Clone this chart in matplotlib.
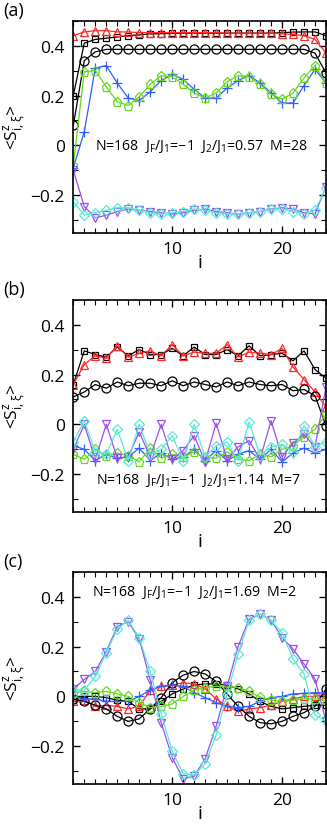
import numpy as np
import matplotlib.pyplot as plt
from matplotlib.ticker import MultipleLocator, FuncFormatter

plt.rcParams['font.family'] = ['Open Sans', 'DejaVu Sans']
plt.rcParams['mathtext.fontset'] = 'custom'
plt.rcParams['mathtext.rm'] = 'Open Sans'
plt.rcParams['mathtext.it'] = 'Open Sans'

i_site = np.arange(1, 25)

# panel (a)  J2/J1=0.57  M=28
a_sq = [0.20, 0.41, 0.425, 0.43, 0.435, 0.44, 0.443, 0.447, 0.448, 0.449, 0.45, 0.45,
        0.45, 0.45, 0.45, 0.45, 0.45, 0.45, 0.45, 0.452, 0.454, 0.455, 0.455, 0.44]
a_tri = [0.44, 0.455, 0.46, 0.46, 0.455, 0.455, 0.452, 0.452, 0.452, 0.452, 0.452, 0.452,
         0.452, 0.452, 0.45, 0.45, 0.45, 0.45, 0.45, 0.448, 0.445, 0.44, 0.425, 0.37]
a_circ = [0.08, 0.34, 0.375, 0.385, 0.385, 0.385, 0.385, 0.385, 0.385, 0.385, 0.385, 0.385,
          0.385, 0.385, 0.385, 0.385, 0.385, 0.385, 0.385, 0.385, 0.385, 0.385, 0.37, 0.29]
a_plus = [-0.09, 0.055, 0.31, 0.32, 0.25, 0.19, 0.18, 0.215, 0.26, 0.285, 0.265, 0.225,
          0.19, 0.19, 0.23, 0.26, 0.28, 0.25, 0.21, 0.17, 0.17, 0.24, 0.305, 0.25]
a_pent = [-0.08, 0.295, 0.30, 0.235, 0.175, 0.16, 0.195, 0.245, 0.28, 0.275, 0.245, 0.21,
          0.19, 0.21, 0.255, 0.28, 0.275, 0.245, 0.205, 0.185, 0.21, 0.27, 0.32, 0.25]
a_vtri = [-0.10, -0.245, -0.29, -0.28, -0.265, -0.255, -0.26, -0.265, -0.27, -0.275, -0.27, -0.26,
          -0.255, -0.265, -0.27, -0.275, -0.27, -0.265, -0.255, -0.25, -0.255, -0.27, -0.275, -0.165]
a_diam = [-0.225, -0.28, -0.27, -0.26, -0.25, -0.25, -0.26, -0.27, -0.275, -0.27, -0.265, -0.255,
          -0.26, -0.27, -0.275, -0.275, -0.27, -0.265, -0.255, -0.255, -0.265, -0.275, -0.26, -0.17]

# panel (b)  J2/J1=1.14  M=7
b_sq = [0.16, 0.295, 0.28, 0.27, 0.31, 0.275, 0.30, 0.28, 0.28, 0.305, 0.275, 0.31,
        0.28, 0.28, 0.30, 0.275, 0.315, 0.275, 0.28, 0.285, 0.255, 0.295, 0.22, 0.185]
b_tri = [0.16, 0.24, 0.275, 0.265, 0.315, 0.27, 0.285, 0.295, 0.275, 0.32, 0.275, 0.29,
         0.285, 0.285, 0.32, 0.27, 0.29, 0.285, 0.28, 0.305, 0.23, 0.18, 0.13, 0.07]
b_circ = [0.11, 0.13, 0.16, 0.145, 0.17, 0.155, 0.165, 0.165, 0.155, 0.175, 0.155, 0.17,
          0.16, 0.15, 0.17, 0.155, 0.17, 0.16, 0.155, 0.16, 0.135, 0.14, 0.115, -0.005]
b_plus = [-0.085, -0.10, -0.145, -0.12, -0.135, -0.13, -0.095, -0.145, -0.115, -0.14, -0.13, -0.10,
          -0.145, -0.105, -0.145, -0.12, -0.105, -0.14, -0.10, -0.15, -0.115, -0.095, -0.115, -0.10]
b_pent = [-0.12, -0.14, -0.10, -0.125, -0.115, -0.125, -0.15, -0.095, -0.135, -0.12, -0.13, -0.11,
          -0.135, -0.135, -0.11, -0.14, -0.145, -0.12, -0.13, -0.10, -0.085, -0.05, -0.02, 0.04]
b_vtri = [-0.10, 0.0, -0.14, 0.0, -0.135, -0.13, -0.03, -0.13, 0.0, -0.14, -0.105, -0.045,
          -0.15, 0.005, -0.14, -0.09, -0.065, -0.14, 0.015, -0.13, -0.075, -0.04, -0.09, 0.15]
b_diam = [-0.07, 0.015, -0.11, -0.12, -0.02, -0.145, 0.0, -0.12, -0.10, -0.045, -0.145, 0.0,
          -0.13, -0.085, -0.07, -0.145, 0.01, -0.125, -0.09, -0.08, -0.11, -0.005, -0.09, -0.07]

# panel (c)  J2/J1=1.69  M=2
c_sq = [-0.005, 0.0, 0.0, -0.005, -0.015, -0.02, -0.05, -0.05, -0.02, 0.01, 0.03, 0.045,
        0.05, 0.05, 0.045, 0.03, 0.01, -0.02, -0.04, -0.05, -0.045, -0.04, -0.035, -0.035]
c_tri = [-0.02, -0.015, -0.04, -0.035, -0.04, -0.05, -0.04, 0.025, 0.04, 0.045, 0.055, 0.05,
         0.03, -0.01, -0.04, -0.06, -0.05, -0.045, -0.035, -0.02, -0.01, 0.0, 0.0, 0.01]
c_circ = [-0.01, -0.02, -0.035, -0.05, -0.08, -0.10, -0.09, -0.05, -0.005, 0.055, 0.085, 0.10,
          0.09, 0.06, 0.01, -0.04, -0.08, -0.105, -0.11, -0.10, -0.08, -0.065, -0.04, 0.03]
c_plus = [0.0, -0.01, -0.01, -0.02, -0.02, -0.02, 0.0, 0.025, 0.04, 0.045, 0.04, 0.015,
          -0.005, -0.025, -0.04, -0.045, -0.04, -0.02, -0.005, 0.0, 0.01, 0.012, 0.015, 0.015]
c_pent = [0.015, 0.02, 0.015, 0.02, 0.01, 0.0, -0.025, -0.045, -0.04, -0.03, 0.0, 0.025,
          0.035, 0.04, 0.04, 0.035, 0.02, -0.003, -0.015, -0.02, -0.015, -0.01, -0.01, -0.015]
c_vtri = [0.03, 0.068, 0.10, 0.18, 0.28, 0.30, 0.23, 0.067, -0.105, -0.245, -0.33, -0.32,
          -0.25, -0.12, 0.04, 0.20, 0.31, 0.33, 0.305, 0.235, 0.19, 0.13, 0.07, -0.10]
c_diam = [0.025, 0.025, 0.08, 0.175, 0.27, 0.305, 0.235, 0.10, -0.07, -0.22, -0.31, -0.315,
          -0.27, -0.155, 0.01, 0.17, 0.305, 0.33, 0.305, 0.255, 0.15, 0.09, -0.075, -0.10]

panels = [
    ("(a)", "0.57", "28", [a_sq, a_tri, a_circ, a_plus, a_pent, a_vtri, a_diam], (12.7, 0.0)),
    ("(b)", "1.14", "7", [b_sq, b_tri, b_circ, b_plus, b_pent, b_vtri, b_diam], (12.4, -0.222)),
    ("(c)", "1.69", "2", [c_sq, c_tri, c_circ, c_plus, c_pent, c_vtri, c_diam], (12.0, 0.42)),
]

# couleur, marqueur, taille
styles = [
    ("black", "s", 5.0),
    ("#ff2828", "^", 5.5),
    ("black", "o", 6.5),
    ("#2f5fff", "+", 7.5),
    ("#66d81c", "p", 6.5),
    ("#9a4ff0", "v", 6.0),
    ("#58ead4", "D", 4.8),
]


def fmt_y(v, pos):
    if abs(v) < 1e-9:
        return "0"
    return f"{v:.1f}".replace("-", "\u2212")


def draw_panel(ax, j2, m, series, txt_pos):
    for y, (col, mk, ms) in zip(series, styles):
        ax.plot(i_site, y, color=col, lw=0.9, marker=mk, ms=ms, mfc="none",
                mec=col, mew=0.9, clip_on=True)

    ax.set_xlim(1, 24)
    ax.set_ylim(-0.35, 0.5)
    ax.xaxis.set_major_locator(MultipleLocator(10))
    ax.xaxis.set_minor_locator(MultipleLocator(1))
    ax.yaxis.set_major_locator(MultipleLocator(0.2))
    ax.yaxis.set_minor_locator(MultipleLocator(0.1))
    ax.yaxis.set_major_formatter(FuncFormatter(fmt_y))
    ax.tick_params(which="both", direction="in", top=True, right=True, labelsize=12.5, pad=6)
    ax.tick_params(which="major", length=5, width=1)
    ax.tick_params(which="minor", length=3.5, width=0.8)
    for sp in ax.spines.values():
        sp.set_linewidth(1.2)

    ax.set_xlabel("i", fontsize=14, labelpad=-3)
    ax.set_ylabel(r"<S$^{z}_{i,\xi}$>", fontsize=12.5)
    ax.yaxis.set_label_coords(-0.18, 0.5)

    ax.text(txt_pos[0], txt_pos[1],
            r"N=168  J$_F$/J$_1$=$-$1  J$_2$/J$_1$=" + j2 + "  M=" + m,
            ha="center", va="center", fontsize=10.2)


def main():
    fig = plt.figure(figsize=(3.27, 8.28), dpi=100)
    W, H = 327.0, 828.0
    tops = [21.7, 300.7, 572.7]
    for (label, j2, m, series, tp), top in zip(panels, tops):
        ax = fig.add_axes([73.3 / W, (H - top - 212) / H, 252.7 / W, 212 / H])
        draw_panel(ax, j2, m, series, tp)
        fig.text(3 / W, (H - top + 10.5) / H, label, fontsize=13, ha="left", va="center")
    fig.savefig("out.png", dpi=100)


if __name__ == "__main__":
    main()
